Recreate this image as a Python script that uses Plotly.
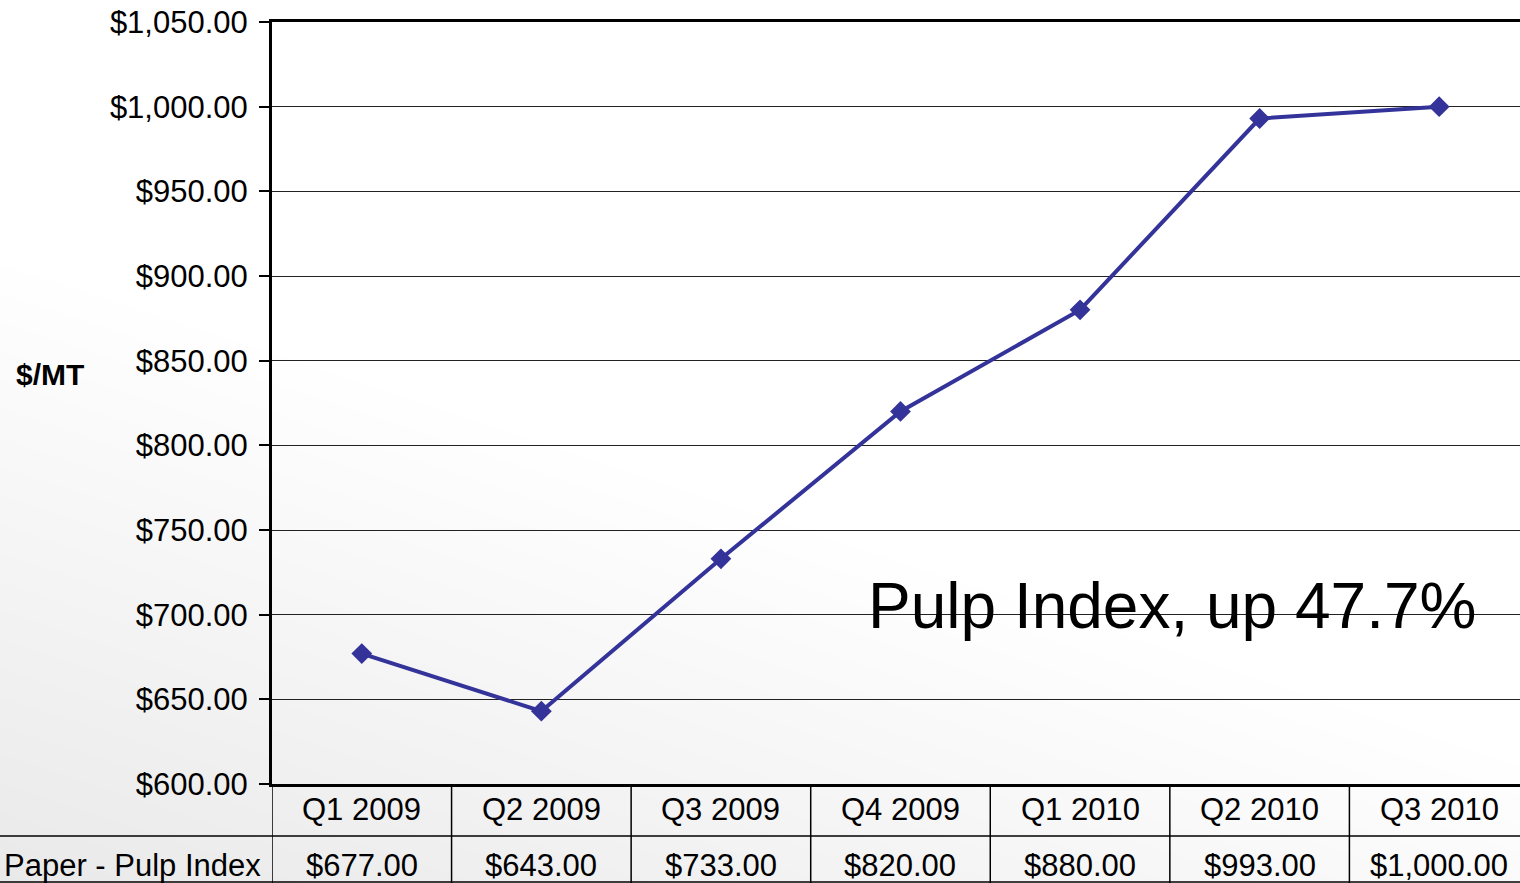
import numpy as np
import plotly.graph_objects as go

# Quarterly pulp index prices ($ per metric ton)
quarters = ["Q1 2009", "Q2 2009", "Q3 2009", "Q4 2009", "Q1 2010", "Q2 2010", "Q3 2010"]
pulp_index = [677, 643, 733, 820, 880, 993, 1000]
series_name = "Paper - Pulp Index"
y_ticks = [600, 650, 700, 750, 800, 850, 900, 950, 1000, 1050]

W, H = 1520, 883
FONT = "Liberation Sans, Arial, sans-serif"
LINE_COLOR = "#333399"
TXT = 31

# Plot-area geometry (paper fractions)
x0_dom = 272 / W
y_bot = (H - 784) / H
y_top = (H - 22) / H

fig = go.Figure()

# Soft diagonal background shading (grey toward the lower-left corner)
gx = np.linspace(0, W, 80)
gy = np.linspace(0, H, 50)
GX, GY = np.meshgrid(gx, gy)
shade = np.clip((GY - 0.33 * GX - 250) / (H - 250), 0, 1)
fig.add_trace(go.Heatmap(
    x=gx, y=gy, z=shade, xaxis="x", yaxis="y",
    colorscale=[[0, "#ffffff"], [1, "#e9e9e9"]], zmin=0, zmax=1,
    zsmooth="best", showscale=False, hoverinfo="skip",
))

# Pulp index line
fig.add_trace(go.Scatter(
    x=list(range(len(quarters))), y=pulp_index, xaxis="x2", yaxis="y2",
    mode="lines+markers", name=series_name,
    line=dict(color=LINE_COLOR, width=4),
    marker=dict(symbol="diamond", size=16, color=LINE_COLOR),
    showlegend=False,
))

shapes = []
annotations = []

# Data table under the chart: category row and value row
for i in range(len(quarters)):
    annotations.append(dict(
        x=i, y=(H - 809) / H, xref="x2", yref="paper", text=quarters[i],
        showarrow=False, font=dict(family=FONT, size=TXT, color="black"),
        xanchor="center", yanchor="middle",
    ))
    annotations.append(dict(
        x=i, y=(H - 865) / H, xref="x2", yref="paper", text=f"${pulp_index[i]:,.2f}",
        showarrow=False, font=dict(family=FONT, size=TXT, color="black"),
        xanchor="center", yanchor="middle",
    ))
annotations.append(dict(
    x=2 / W, y=(H - 865) / H, xref="paper", yref="paper", text=series_name,
    showarrow=False, font=dict(family=FONT, size=TXT, color="black"),
    xanchor="left", yanchor="middle",
))

for k in range(len(quarters)):
    shapes.append(dict(
        type="line", xref="x2", yref="paper", x0=k - 0.5, x1=k - 0.5,
        y0=0, y1=y_bot, line=dict(color="black", width=1.5),
    ))
shapes.append(dict(
    type="line", xref="paper", yref="paper", x0=0, x1=1,
    y0=(H - 836) / H, y1=(H - 836) / H, line=dict(color="black", width=1.5),
))
shapes.append(dict(
    type="line", xref="paper", yref="paper", x0=0, x1=1,
    y0=1 / H, y1=1 / H, line=dict(color="black", width=1.5),
))

# Axis title and callout
annotations.append(dict(
    x=50 / W, y=(H - 374) / H, xref="paper", yref="paper", text="<b>$/MT</b>",
    showarrow=False, font=dict(family=FONT, size=30, color="black"),
    xanchor="center", yanchor="middle",
))
annotations.append(dict(
    x=866 / W, y=(H - 606) / H, xref="paper", yref="paper",
    text="Pulp Index, up 47.7%",
    showarrow=False, font=dict(family=FONT, size=64, color="black"),
    xanchor="left", yanchor="middle",
))

fig.update_layout(
    width=W, height=H,
    margin=dict(l=0, r=0, t=0, b=0, autoexpand=False),
    paper_bgcolor="white",
    plot_bgcolor="rgba(0,0,0,0)",
    font=dict(family=FONT, color="black"),
    xaxis=dict(domain=[0, 1], range=[0, W], visible=False, fixedrange=True,
               automargin=False),
    yaxis=dict(domain=[0, 1], range=[H, 0], visible=False, fixedrange=True,
               automargin=False),
    xaxis2=dict(
        domain=[x0_dom, 1], anchor="y2", range=[-0.5, 6.45], automargin=False,
        showticklabels=False, ticks="", showgrid=False, zeroline=False,
        showline=True, mirror=True, linecolor="black", linewidth=3,
    ),
    yaxis2=dict(
        domain=[y_bot, y_top], anchor="x2", range=[600, 1050], automargin=False,
        tickvals=y_ticks, tickformat="$,.2f",
        ticks="outside", ticklen=10, tickwidth=2, tickcolor="black",
        ticklabelstandoff=5,
        tickfont=dict(family=FONT, size=TXT, color="black"),
        showgrid=True, gridcolor="#222222", gridwidth=1.2,
        zeroline=False, showline=True, linecolor="black", linewidth=3,
    ),
    shapes=shapes,
    annotations=annotations,
    showlegend=False,
)

fig.write_html("out.html")
